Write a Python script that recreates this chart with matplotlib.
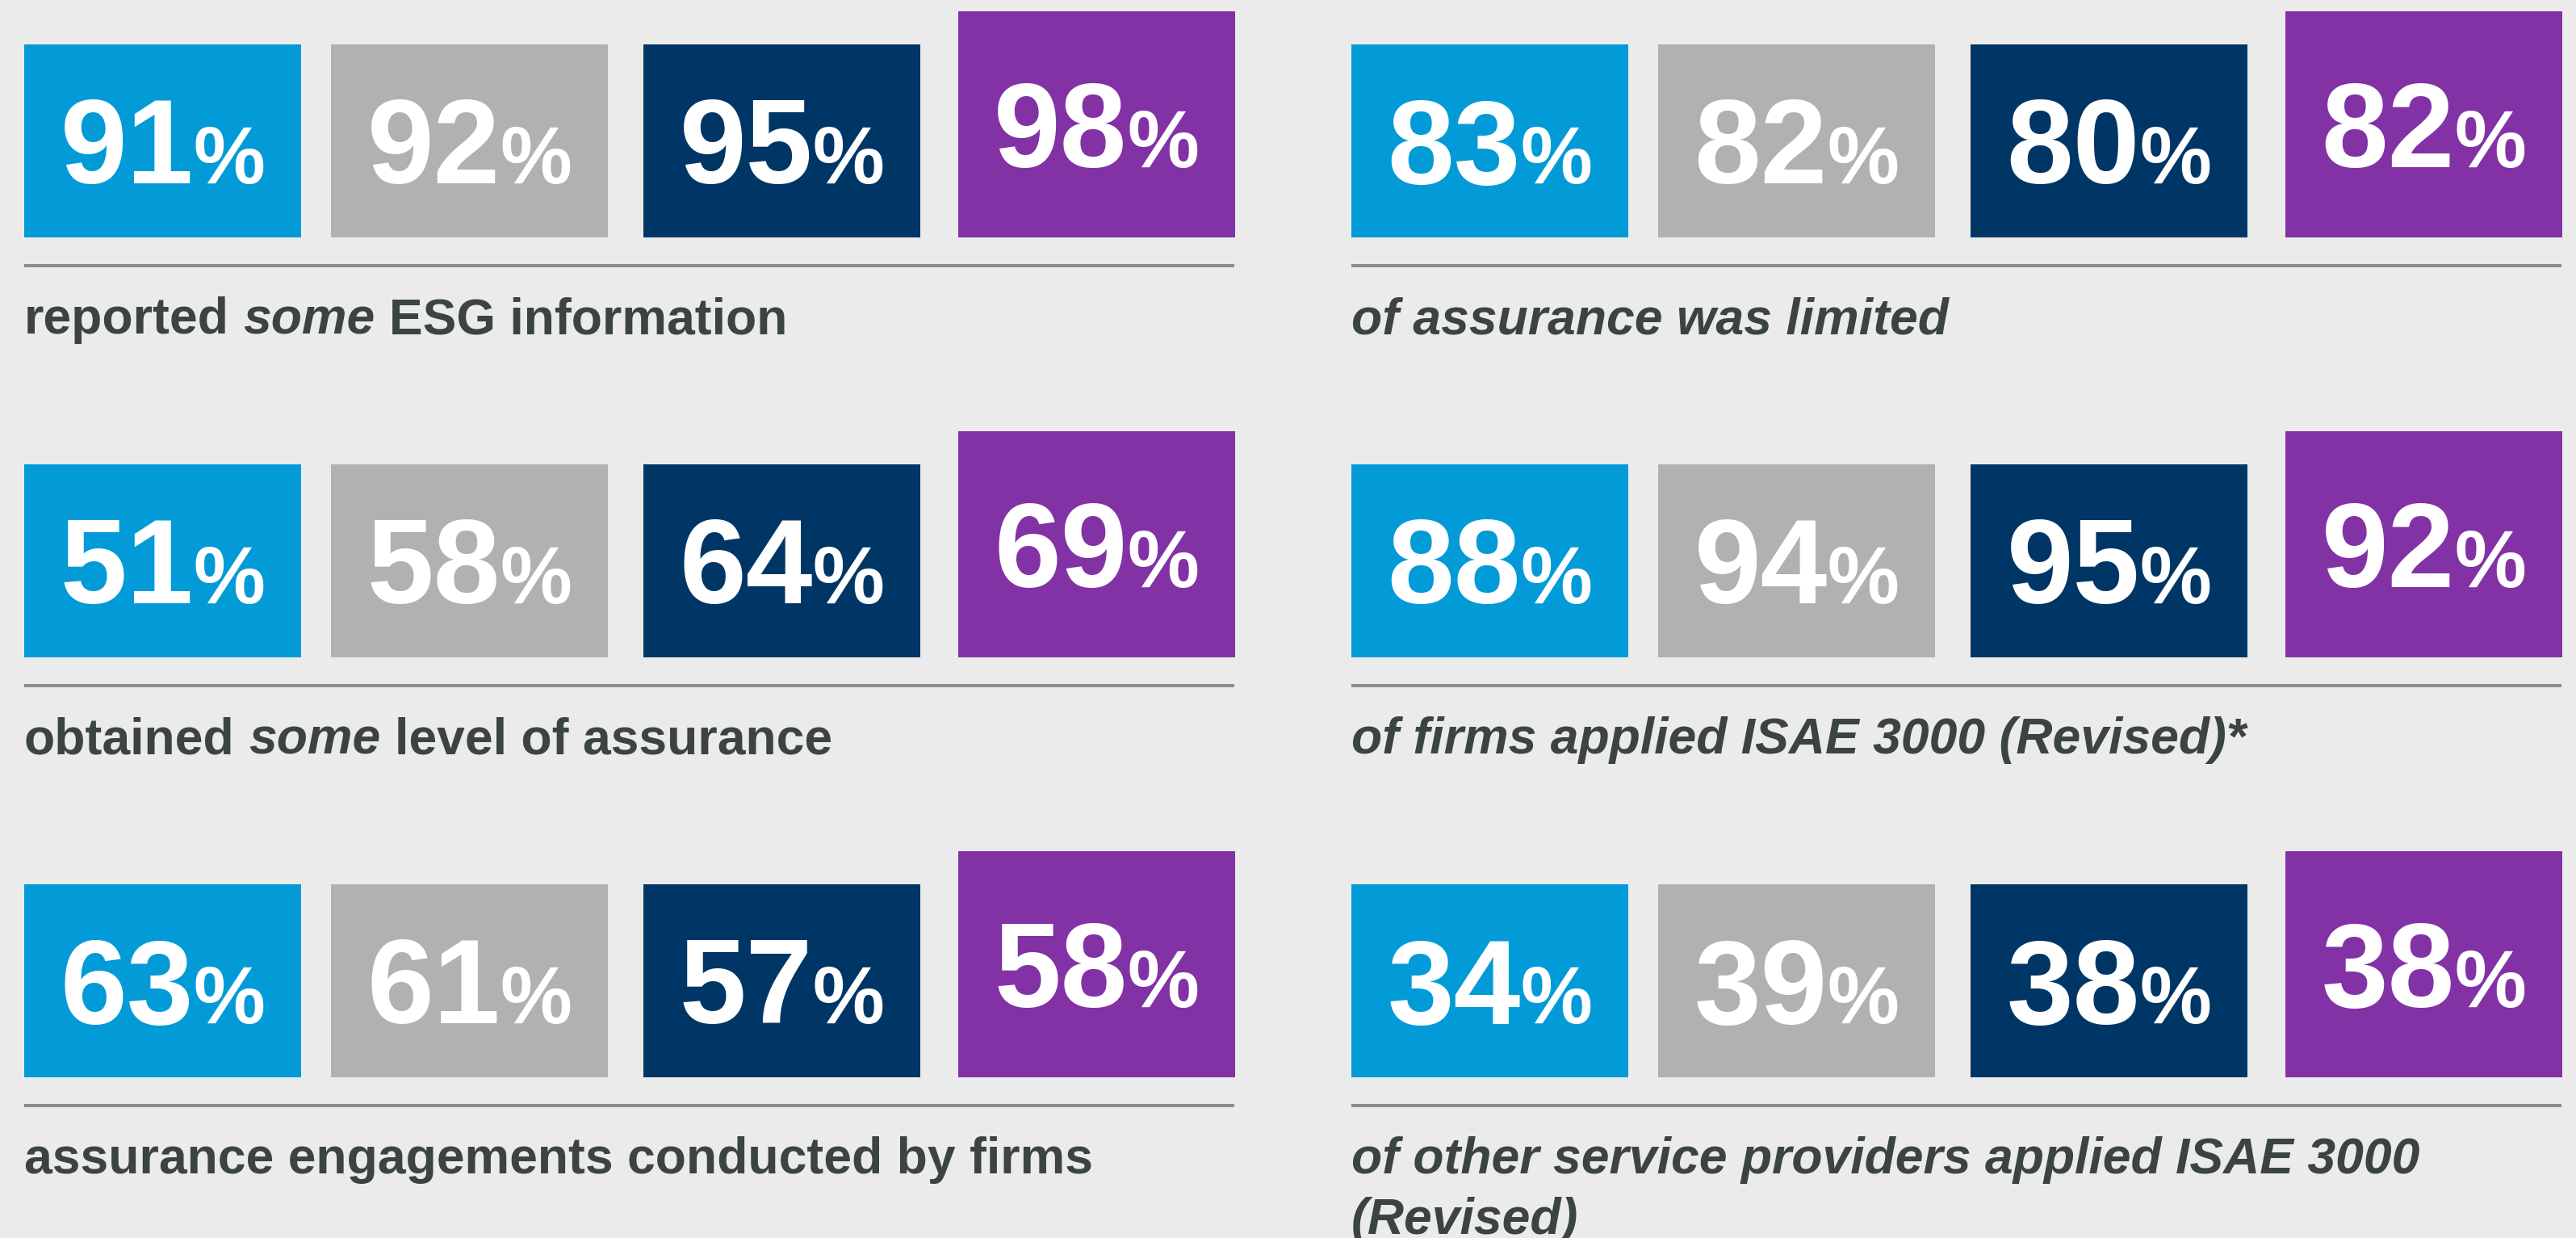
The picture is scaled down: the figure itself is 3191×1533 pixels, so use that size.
import matplotlib
matplotlib.use("Agg")
import matplotlib.pyplot as plt
from matplotlib import font_manager

# porcentajes por fila, orden de colores: azul, gris, marino, morado
left_values = [[91, 92, 95, 98], [51, 58, 64, 69], [63, 61, 57, 58]]
right_values = [[83, 82, 80, 82], [88, 94, 95, 92], [34, 39, 38, 38]]

# etiquetas: cada fila es una lista de lineas, cada linea una lista de (texto, cursiva)
left_labels = [
    [[("reported", False), ("some", True), ("ESG information", False)]],
    [[("obtained", False), ("some", True), ("level of assurance", False)]],
    [[("assurance engagements conducted by firms", False)]],
]
right_labels = [
    [[("of assurance was limited", True)]],
    [[("of firms applied ISAE 3000 (Revised)*", True)]],
    [[("of other service providers applied ISAE 3000", True)], [("(Revised)", True)]],
]

colors = ["#039BD7", "#B1B1B1", "#003665", "#8232A5"]
bg = "#EBEBEB"
text_color = "#3B4443"
rule_color = "#8A8C90"


def pick_font(names):
    for n in names:
        try:
            font_manager.findfont(font_manager.FontProperties(family=n), fallback_to_default=False)
            return n
        except Exception:
            pass
    return "DejaVu Sans"


num_font = pick_font(["Liberation Sans", "Arial", "DejaVu Sans"])
label_font = pick_font(["Liberation Sans", "Arial", "DejaVu Sans"])
label_size = 45

W, H = 3191, 1533
fig = plt.figure(figsize=(W / 100, H / 100), dpi=100, facecolor=bg)
ax = fig.add_axes([0, 0, 1, 1])
ax.set_xlim(0, W)
ax.set_ylim(H, 0)
ax.axis("off")
ax.set_facecolor(bg)

col_x = [30, 1674]
box_off = [0, 380, 767, 1157]
box_w = 343
row_top = [55, 575, 1095]
box_h = 239
extra = 41          # el ultimo cuadro (morado) sobresale por arriba
rule_len = 1499

fig.canvas.draw()
r = fig.canvas.get_renderer()


def tw(t):
    return t.get_window_extent(r).width


def space_w(style):
    a = ax.text(0, 0, "x x", fontsize=label_size, family=label_font, weight="bold", style=style)
    b = ax.text(0, 0, "xx", fontsize=label_size, family=label_font, weight="bold", style=style)
    w = tw(a) - tw(b)
    a.remove()
    b.remove()
    return w


sp = {"normal": space_w("normal"), "italic": space_w("italic")}

for c, (values, labels) in enumerate([(left_values, left_labels), (right_values, right_labels)]):
    x0 = col_x[c]
    for i, row in enumerate(values):
        top = row_top[i]
        lefts = [x0 + o for o in box_off]
        tops = [top, top, top, top - extra]
        heights = [box_h, box_h, box_h, box_h + extra]
        ax.bar(lefts, heights, width=box_w, bottom=tops, align="edge", color=colors, linewidth=0)

        for j, v in enumerate(row):
            cy = tops[j] + heights[j] / 2
            base = cy + 53
            t1 = ax.text(0, base, str(v), fontsize=107, family=num_font, weight="bold",
                         color="white", va="baseline", ha="left")
            t2 = ax.text(0, base, "%", fontsize=72, family=num_font, weight="bold",
                         color="white", va="baseline", ha="left")
            w1, w2 = tw(t1), tw(t2)
            start = lefts[j] + box_w / 2 - (w1 + w2) / 2
            t1.set_x(start)
            t2.set_x(start + w1)

        ax.plot([x0, x0 + rule_len], [top + 274, top + 274], color=rule_color,
                lw=4 * 72 / 100, solid_capstyle="butt")

        for k, line in enumerate(labels[i]):
            x = x0
            y = top + 358 + 75 * k
            for n, (txt, it) in enumerate(line):
                style = "italic" if it else "normal"
                if n > 0:
                    x += sp[style]
                t = ax.text(x, y, txt, fontsize=label_size, family=label_font, weight="bold",
                            style=style, color=text_color, va="baseline", ha="left")
                x += tw(t)

fig.savefig("out.png", dpi=100, facecolor=bg)
